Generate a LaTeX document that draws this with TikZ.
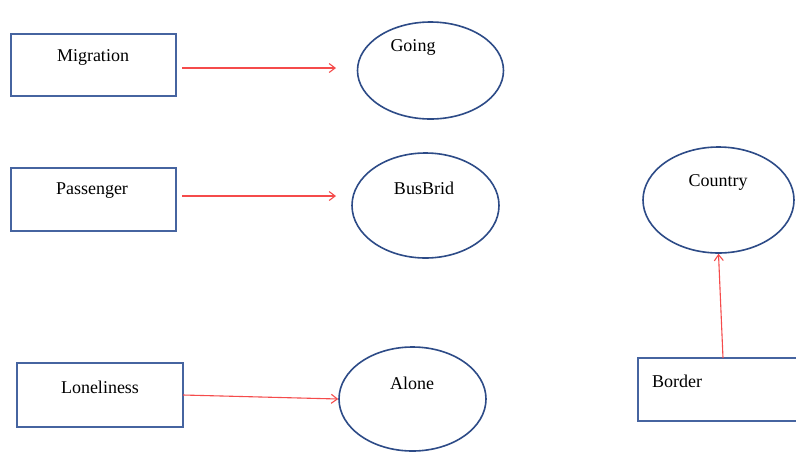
\documentclass[tikz,border=0pt]{standalone}
\usepackage{fontspec}
\setmainfont{Liberation Serif}
\usetikzlibrary{arrows.meta,shapes.geometric}
\definecolor{boxblue}{RGB}{70,100,160}
\definecolor{ellblue}{RGB}{45,75,135}
\definecolor{arrred}{RGB}{245,75,75}
\tikzset{
  conbox/.style={draw=boxblue,line width=1.6pt,rectangle,inner sep=0pt},
  conell/.style={draw=ellblue,line width=1.6pt,ellipse,inner sep=0pt},
  lbl/.style={font=\fontsize{18}{20}\selectfont,inner sep=0pt,text=black},
  conarr/.style={draw=arrred,line width=1.1pt,-{Straight Barb[length=6pt,width=9pt]}}
}
\begin{document}
\begin{tikzpicture}[x=1pt,y=-1pt]
\useasboundingbox[fill=white] (0,0) rectangle (796,451);
% boxes
\node[conbox,minimum width=165pt,minimum height=62pt] (mig) at (93.5,65) {};
\node[conbox,minimum width=165pt,minimum height=63pt] (pas) at (93.5,199.5) {};
\node[conbox,minimum width=166pt,minimum height=64pt] (lon) at (100,395) {};
\node[conbox,minimum width=166pt,minimum height=63pt] (bor) at (721,389.5) {};
% ellipses
\node[conell,minimum width=146pt,minimum height=97pt] (going) at (430.5,70.5) {};
\node[conell,minimum width=147pt,minimum height=105pt] (bus) at (425.5,205.5) {};
\node[conell,minimum width=147pt,minimum height=104pt] (alone) at (412.5,399) {};
\node[conell,minimum width=151pt,minimum height=106pt] (country) at (718.5,200) {};
% labels
\node[lbl] (tmig) at (93,57) {Migration};
\node[lbl] (tpas) at (92,191) {Passenger};
\node[lbl] (tlon) at (100,387) {Loneliness};
\node[lbl,anchor=west] (tbor) at (652,381) {Border};
\node[lbl] (tgoing) at (413,47) {Going};
\node[lbl] (tbus) at (424,188) {BusBrid};
\node[lbl] (talone) at (412,383) {Alone};
\node[lbl] (tcountry) at (718,182) {Country};
% arrow end points
\coordinate (e1) at (336,68);
\coordinate (s1) at (182,68);
\coordinate (e2) at (336,196);
\coordinate (s2) at (182,196);
\coordinate (s3) at (183,395);
\coordinate (s4) at (723,358);
\draw[conarr] (s1) -- (e1);
\draw[conarr] (s2) -- (e2);
\draw[conarr] (s3) -- (alone.west);
\draw[conarr] (s4) -- (country.south);
\end{tikzpicture}
\end{document}
